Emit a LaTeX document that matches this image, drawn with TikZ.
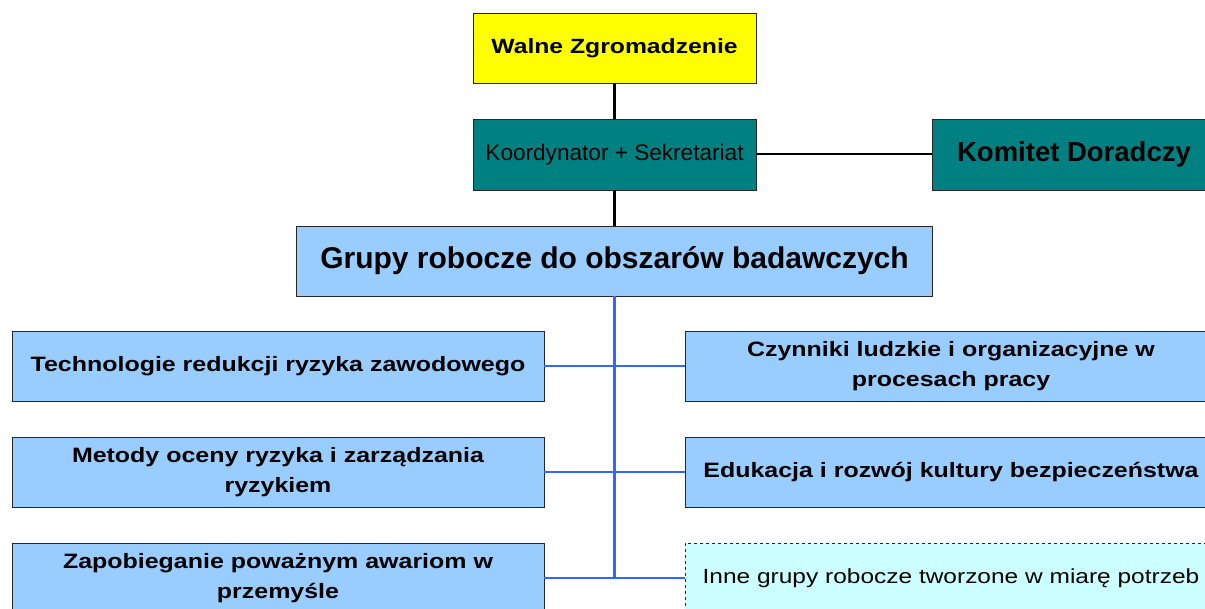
\documentclass[tikz,border=0pt]{standalone}
\usepackage{fontspec}
\setmainfont{Liberation Sans}
\newfontfamily\widesans[FakeStretch=1.2]{Liberation Sans}
\usetikzlibrary{graphs, positioning}

\definecolor{walneyellow}{HTML}{FFFF00}
\definecolor{koordteal}{HTML}{008080}
\definecolor{grupablue}{HTML}{99CCFF}
\definecolor{innecyan}{HTML}{CCFFFF}
\definecolor{linkblue}{HTML}{3366FF}

\tikzset{
    box/.style={draw=black!85, line width=0.8pt, inner sep=0pt, outer sep=0pt, align=center, text=black},
    top box/.style={box, minimum width=283pt, minimum height=71pt},
    group box/.style={box, fill=grupablue, minimum width=532pt, minimum height=70pt,
        font=\widesans\bfseries\fontsize{20.8}{30}\selectfont},
    black link/.style={draw=black, line width=3pt},
    blue link/.style={draw=linkblue, line width=2.6pt},
}

\begin{document}
\begin{tikzpicture}[x=1pt, y=-1pt, node distance=36pt]
    \fill[white] (0,0) rectangle (1205,609);
    \useasboundingbox (0,0) rectangle (1205,609);
    \clip (0,0) rectangle (1205,609);

    \node[top box, fill=walneyellow, minimum height=70pt, anchor=north west,
        font=\widesans\bfseries\fontsize{20.6}{24}\selectfont] (Walne) at (473,13) {Walne Zgromadzenie};
    \node[top box, fill=koordteal, below=36pt of Walne,
        font=\fontsize{22.6}{26}\selectfont] (Koordynator) {Koordynator + Sekretariat};
    \node[top box, fill=koordteal, minimum width=284pt, right=176pt of Koordynator,
        font=\bfseries\fontsize{27.5}{31}\selectfont] (Komitet) {Komitet Doradczy};
    \node[box, fill=grupablue, minimum width=636pt, minimum height=70pt, below=36pt of Koordynator,
        font=\bfseries\fontsize{30}{34}\selectfont] (Grupy) {Grupy robocze do obszarów badawczych};

    \node[group box, anchor=north west] (Left 0) at (12,331) {Technologie redukcji ryzyka zawodowego};
    \node[group box, below=36pt of Left 0] (Left 1) {Metody oceny ryzyka i zarządzania\\ryzykiem};
    \node[group box, below=36pt of Left 1] (Left 2) {Zapobieganie poważnym awariom w\\przemyśle};

    \node[group box, right=141pt of Left 0] (Right 0) {Czynniki ludzkie i organizacyjne w\\procesach pracy};
    \node[group box, right=141pt of Left 1] (Right 1) {Edukacja i rozwój kultury bezpieczeństwa};
    \node[group box, right=141pt of Left 2, fill=innecyan, dashed, line width=0.7pt,
        font=\widesans\fontsize{20.4}{24}\selectfont] (Right 2) {Inne grupy robocze tworzone w miarę potrzeb};

    \coordinate (Trunk End) at (Grupy.south |- Left 2.east);

    \graph[edges={black link}]{
        (Walne) -- (Koordynator) -- (Grupy);
    };
    \graph[edges={draw=black, line width=2pt}]{
        (Koordynator) -- (Komitet);
    };
    \graph[edges={blue link}]{
        (Grupy) -- (Trunk End);
        (Left 0) -- (Right 0);
        (Left 1) -- (Right 1);
        (Left 2) -- (Right 2);
    };
\end{tikzpicture}
\end{document}
